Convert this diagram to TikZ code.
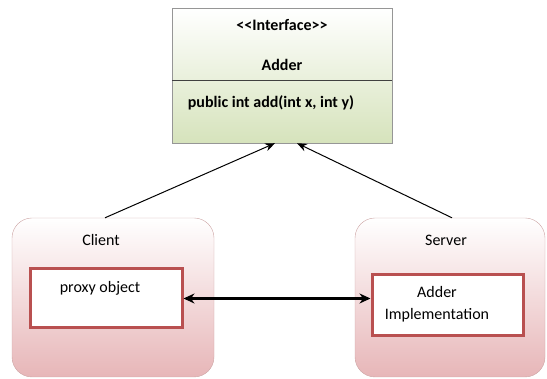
\documentclass[tikz,border=0pt]{standalone}
\usepackage{fontspec}
\setmainfont{Carlito}
\usetikzlibrary{arrows.meta,positioning}
\definecolor{ifacegreen}{RGB}{214,227,188}
\definecolor{ifaceline}{RGB}{150,150,150}
\definecolor{hostpink}{RGB}{231,182,184}
\definecolor{hostline}{RGB}{205,165,165}
\definecolor{objred}{RGB}{185,80,80}

\begin{document}
\begin{tikzpicture}[x=1pt,y=-1pt,
    txt/.style={font=\fontsize{16}{19}\selectfont, inner sep=0pt},
    boldtxt/.style={font=\fontsize{16}{19}\selectfont\bfseries, inner sep=0pt},
    hostbox/.style={draw=hostline, top color=white, bottom color=hostpink,
        rounded corners=20pt, inner sep=0pt},
    objbox/.style={draw=objred, line width=3pt, fill=white, inner sep=0pt},
    inherit/.style={-{Stealth[length=10pt,width=8pt]}, line width=1pt}]
    \useasboundingbox (0,0) rectangle (547,379);

    % interface
    \node[draw=ifaceline, top color=white, bottom color=ifacegreen, inner sep=0pt,
        minimum width=220pt, minimum height=135pt] (adder) at (282,75.5) {};
    \draw[black!75] (adder.north west) ++(0,72) -- ++(220,0);
    \node[boldtxt] (stereo) at (282,25) {<{}<Interface>{}>};
    \node[boldtxt] (name) at (282,65) {Adder};
    \node[boldtxt] (method) at (271,103) {public int add(int x, int y)};

    % client and server
    \node[hostbox, minimum width=202pt, minimum height=159pt] (client) at (113,297.5) {};
    \node[hostbox, minimum width=190pt, minimum height=159pt] (server) at (450,297.5) {};
    \node[txt] (clientlbl) at (101,240) {Client};
    \node[txt] (serverlbl) at (446,240) {Server};

    \node[objbox, minimum width=152pt, minimum height=59pt] (proxy) at (106,298.5) {};
    \node[txt] (proxytxt) at (100,288) {proxy object};
    \node[objbox, minimum width=151pt, minimum height=61pt] (impl) at (447.5,305.5) {};
    \node[txt, align=center] (impltxt) at (437,304) {Adder\\[3pt]Implementation};

    % connectors
    \draw[inherit] ([xshift=-8pt]client.north) -- ([xshift=-7pt]adder.south);
    \draw[inherit] ([xshift=2pt]server.north) -- ([xshift=15pt]adder.south);
    \draw[{Stealth[length=11pt,width=10pt]}-{Stealth[length=11pt,width=10pt]}, line width=2.5pt]
        (proxy.east) -- (proxy.east -| impl.west);
\end{tikzpicture}
\end{document}
